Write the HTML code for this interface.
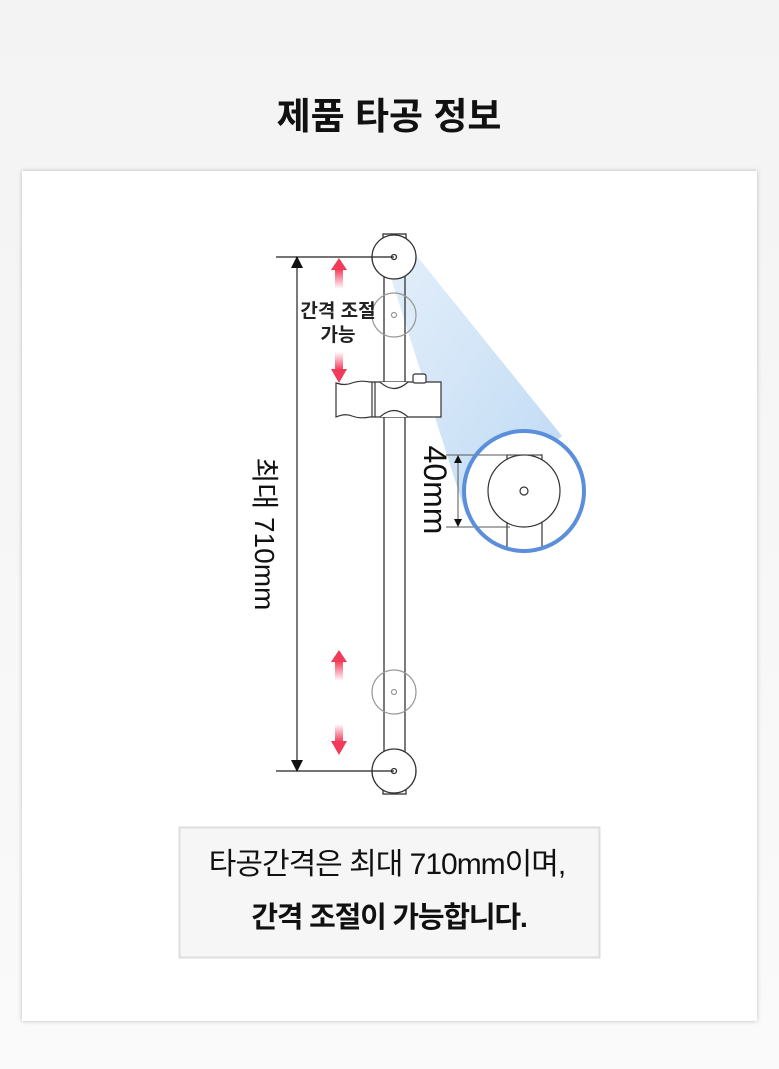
<!DOCTYPE html>
<html><head><meta charset="utf-8"><style>
html,body{margin:0;padding:0;width:779px;height:1069px;overflow:hidden;background:#fff;}
svg{display:block;}
text{font-family:"Liberation Sans","Noto Sans CJK KR",sans-serif;}
</style></head><body>
<svg width="779" height="1069" viewBox="0 0 779 1069" xmlns="http://www.w3.org/2000/svg">
<defs>
<linearGradient id="bg" x1="0" y1="0" x2="0" y2="1">
<stop offset="0" stop-color="#f3f3f3"/><stop offset="1" stop-color="#fafafa"/></linearGradient>
<linearGradient id="up" x1="0" y1="0" x2="0" y2="1">
<stop offset="0" stop-color="#f23a5a"/><stop offset="1" stop-color="#f23a5a" stop-opacity="0"/></linearGradient>
<linearGradient id="dn" x1="0" y1="1" x2="0" y2="0">
<stop offset="0" stop-color="#f23a5a"/><stop offset="1" stop-color="#f23a5a" stop-opacity="0"/></linearGradient>
<linearGradient id="cone" x1="0" y1="0" x2="1" y2="1">
<stop offset="0" stop-color="#d6e7f8" stop-opacity="0.7"/><stop offset="1" stop-color="#bcd8f3"/></linearGradient>
<filter id="sh" x="-5%" y="-5%" width="110%" height="110%"><feDropShadow dx="0" dy="0" stdDeviation="2" flood-color="#000" flood-opacity="0.25"/></filter>
</defs>
<rect width="779" height="1069" fill="url(#bg)"/>
<text x="389" y="129" text-anchor="middle" font-size="37" font-weight="bold" fill="#111">제품 타공 정보</text>
<rect x="22" y="171" width="735" height="850" fill="#fff" filter="url(#sh)"/>

<polygon points="386,262 416,255 562,436 466,515" fill="url(#cone)"/>

<g fill="none" stroke="#333" stroke-width="1.3">
<line x1="384" y1="276" x2="384" y2="752"/>
<line x1="405" y1="276" x2="405" y2="752"/>
<rect x="383" y="234" width="23" height="4" fill="#fff"/>
<circle cx="394" cy="257" r="22" fill="#fff"/>
<circle cx="394" cy="257" r="2.5"/>
<rect x="383" y="790" width="23" height="4" fill="#fff"/>
<circle cx="394" cy="771" r="22" fill="#fff"/>
<circle cx="394" cy="771" r="2.5"/>
</g>
<g fill="none" stroke="#999" stroke-width="1.2">
<circle cx="394" cy="315" r="22"/><circle cx="394" cy="315" r="2.5"/>
<circle cx="394" cy="692" r="22"/><circle cx="394" cy="692" r="2.5"/>
</g>
<g fill="#fff" stroke="#333" stroke-width="1.2">
<path d="M336,383 Q345,386 352,383 Q360,380 370,382 L441,382 L441,417 L370,417 Q360,419 352,416 Q345,413 336,417 Z"/>
<line x1="372" y1="382" x2="372" y2="417"/>
<line x1="375" y1="382" x2="375" y2="417"/>
<path d="M380,382 Q394,395 408,382" />
<path d="M380,417 Q394,404 408,417" />
<rect x="413" y="374" width="13" height="9" rx="2"/>
</g>
<g stroke="#222" stroke-width="1.2">
<line x1="276" y1="257" x2="394" y2="257"/>
<line x1="276" y1="771" x2="394" y2="771"/>
<line x1="297" y1="262" x2="297" y2="766"/>
</g>
<polygon points="297,256 291,268 303,268" fill="#111"/>
<polygon points="297,772 291,760 303,760" fill="#111"/>
<text transform="translate(255,534) rotate(90)" text-anchor="middle" font-size="28" fill="#111">최대 710mm</text>

<g>
<polygon points="339,258 331,270 347,270" fill="#f23a5a"/><rect x="335" y="269" width="8" height="20" fill="url(#up)"/>
<rect x="335" y="352" width="8" height="18" fill="url(#dn)"/><polygon points="339,383 331,369 347,369" fill="#f23a5a"/>
<polygon points="339,650 331,662 347,662" fill="#f23a5a"/><rect x="335" y="661" width="8" height="20" fill="url(#up)"/>
<rect x="335" y="724" width="8" height="18" fill="url(#dn)"/><polygon points="339,755 331,741 347,741" fill="#f23a5a"/>
</g>
<text x="338" y="317" text-anchor="middle" font-size="19" font-weight="bold" fill="#222">간격 조절</text>
<text x="338" y="341" text-anchor="middle" font-size="19" font-weight="bold" fill="#222">가능</text>

<circle cx="524" cy="491" r="60" fill="#fff"/>
<g fill="none" stroke="#333" stroke-width="1.2">
<rect x="507" y="455" width="35" height="6" fill="#fff"/>
<line x1="507" y1="520" x2="507" y2="549"/><line x1="542" y1="520" x2="542" y2="549"/>
<circle cx="524" cy="491" r="36" fill="#fff"/>
<circle cx="524" cy="491" r="4"/>
</g>
<g stroke="#555" stroke-width="1">
<line x1="446" y1="455" x2="540" y2="455"/><line x1="446" y1="527" x2="510" y2="527"/>
<line x1="458" y1="459" x2="458" y2="523"/>
</g>
<polygon points="458,455 454,463 462,463" fill="#111"/>
<polygon points="458,527 454,519 462,519" fill="#111"/>
<circle cx="524" cy="491" r="60" fill="none" stroke="#5b8fdc" stroke-width="4"/>
<text transform="translate(424,490) rotate(90)" text-anchor="middle" font-size="32" fill="#111">40mm</text>

<rect x="179.5" y="827.5" width="420" height="130" fill="#f6f6f6" stroke="#ddd" stroke-width="2"/>
<text x="387" y="874" text-anchor="middle" font-size="30" fill="#111" letter-spacing="-1">타공간격은 최대 710mm이며,</text>
<text x="389" y="927" text-anchor="middle" font-size="29" font-weight="bold" fill="#111" letter-spacing="-1.2">간격 조절이 가능합니다.</text>
</svg>
</body></html>
